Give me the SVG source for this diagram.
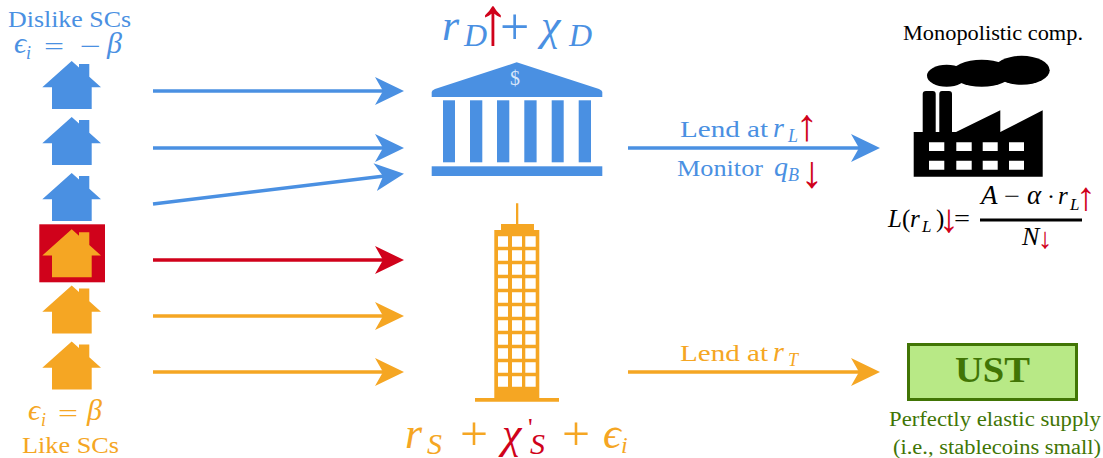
<svg xmlns="http://www.w3.org/2000/svg" width="1103" height="458" viewBox="0 0 1103 458">
<style>
text{font-family:"Liberation Serif","Times New Roman",serif}
.i{font-style:italic}
.b{fill:#4a90e2}.o{fill:#f5a623}.r{fill:#d0021b}.g{fill:#417505}.k{fill:#000}
.la{fill:none;stroke-width:3.4}
.ra{fill:#d0021b;text-anchor:middle}
</style>
<defs>
<path id="house" d="M71.7 61L79 67.5V64H89.3V76.8L101 87.3H91.7V109H52V87.3H42.3Z"/>
<marker id="hb" markerUnits="userSpaceOnUse" markerWidth="30" markerHeight="30" refX="22" refY="15" orient="auto"><path d="M0 1L29 15L0 29L8 15Z" fill="#4a90e2"/></marker>
<marker id="hr" markerUnits="userSpaceOnUse" markerWidth="30" markerHeight="30" refX="22" refY="15" orient="auto"><path d="M0 1L29 15L0 29L8 15Z" fill="#d0021b"/></marker>
<marker id="ho" markerUnits="userSpaceOnUse" markerWidth="30" markerHeight="30" refX="22" refY="15" orient="auto"><path d="M0 1L29 15L0 29L8 15Z" fill="#f5a623"/></marker>
</defs>
<g id="connectors">
<path class="la" stroke="#4a90e2" marker-end="url(#hb)" d="M153 91H397"/>
<path class="la" stroke="#4a90e2" marker-end="url(#hb)" d="M153 148H397"/>
<path class="la" stroke="#4a90e2" marker-end="url(#hb)" d="M153 204L397 174.5"/>
<path class="la" stroke="#d0021b" marker-end="url(#hr)" d="M153 260H397"/>
<path class="la" stroke="#f5a623" marker-end="url(#ho)" d="M153 316H397"/>
<path class="la" stroke="#f5a623" marker-end="url(#ho)" d="M153 372H397"/>
<path class="la" stroke="#4a90e2" marker-end="url(#hb)" d="M628 148H873"/>
<path class="la" stroke="#f5a623" marker-end="url(#ho)" d="M628 372H873"/>
</g>
<g id="house1"><use href="#house" class="b"/></g>
<g id="house2"><use href="#house" class="b" y="56"/></g>
<g id="house3"><use href="#house" class="b" y="112"/></g>
<g id="house4"><rect x="39.3" y="224.3" width="65.7" height="58" class="r"/><use href="#house" class="o" y="168.3"/></g>
<g id="house5"><use href="#house" class="o" y="224.5"/></g>
<g id="house6"><use href="#house" class="o" y="280.5"/></g>
<g id="dislike-label" class="b" font-size="24">
<text x="8" y="27" textLength="123" lengthAdjust="spacingAndGlyphs">Dislike SCs</text>
<text x="14" y="53" class="i" font-size="30">ϵ</text><text x="26" y="59" class="i" font-size="18">i</text>
<text x="44" y="55" font-size="26" textLength="20" lengthAdjust="spacingAndGlyphs">=</text><text x="80" y="55" font-size="26" textLength="21" lengthAdjust="spacingAndGlyphs">−</text><text x="107" y="53" class="i" font-size="30">β</text>
</g>
<g id="like-label" class="o" font-size="24">
<text x="28" y="420" class="i" font-size="30">ϵ</text><text x="41" y="426" class="i" font-size="18">i</text>
<text x="58" y="422" font-size="26" textLength="20" lengthAdjust="spacingAndGlyphs">=</text><text x="87" y="420" class="i" font-size="30">β</text>
<text x="22" y="453" textLength="97" lengthAdjust="spacingAndGlyphs">Like SCs</text>
</g>
<g id="bank" class="b">
<path d="M516.7 62.3L599 89Q602.3 90.5 602.3 92V97H431.7V92Q431.7 90.5 435 89Z"/>
<rect x="443" y="100.3" width="12" height="62"/><rect x="470" y="100.3" width="12.3" height="62"/><rect x="497" y="100.3" width="12.3" height="62"/><rect x="524.3" y="100.3" width="12.3" height="62"/><rect x="551.7" y="100.3" width="12" height="62"/><rect x="578.7" y="100.3" width="12.3" height="62"/>
<rect x="431.7" y="166.3" width="170.6" height="9.7"/>
<text x="515" y="85" font-size="20" text-anchor="middle" style="fill:#d6e6fa">$</text>
</g>
<g id="bank-label" class="b">
<text x="442" y="40" class="i" font-size="44">r</text>
<text x="464" y="46" class="i" font-size="32">D</text>
<text x="500" y="44" font-size="52">+</text>
<text class="ra" x="493" y="44" font-size="67">↑</text>
<text x="541" y="40" class="i" font-size="44">χ</text>
<text x="569" y="46" class="i" font-size="32">D</text>
</g>
<g id="tower" class="o">
<path d="M516 203.3H518.3V224H534V230H539.3V398H559V401.7H475V398H494.3V230H501V224H516Z"/>
<path style="fill:#fff" d="M498 236.3h10v10.5h-10zM512 236.3h10v10.5h-10zM525.3 236.3h10.4v10.5h-10.4zM498 250.3h10v10.5h-10zM512 250.3h10v10.5h-10zM525.3 250.3h10.4v10.5h-10.4zM498 264.3h10v10.5h-10zM512 264.3h10v10.5h-10zM525.3 264.3h10.4v10.5h-10.4zM498 278.3h10v10.5h-10zM512 278.3h10v10.5h-10zM525.3 278.3h10.4v10.5h-10.4zM498 292.3h10v10.5h-10zM512 292.3h10v10.5h-10zM525.3 292.3h10.4v10.5h-10.4zM498 306.3h10v10.5h-10zM512 306.3h10v10.5h-10zM525.3 306.3h10.4v10.5h-10.4zM498 320.3h10v10.5h-10zM512 320.3h10v10.5h-10zM525.3 320.3h10.4v10.5h-10.4zM498 334.3h10v10.5h-10zM512 334.3h10v10.5h-10zM525.3 334.3h10.4v10.5h-10.4zM498 348.3h10v10.5h-10zM512 348.3h10v10.5h-10zM525.3 348.3h10.4v10.5h-10.4zM498 362.3h10v10.5h-10zM512 362.3h10v10.5h-10zM525.3 362.3h10.4v10.5h-10.4zM498 376.3h10v10.5h-10zM512 376.3h10v10.5h-10zM525.3 376.3h10.4v10.5h-10.4z"/>
</g>
<g id="tower-label" class="o">
<text x="405" y="448" class="i" font-size="44">r</text>
<text x="427" y="454" class="i" font-size="30">S</text>
<text x="460" y="450" font-size="48" textLength="28" lengthAdjust="spacingAndGlyphs">+</text>
<text x="502" y="448" class="i" font-size="44" style="fill:#d0021b">χ</text>
<text x="528" y="436" font-size="26" style="fill:#d0021b">'</text>
<text x="530" y="454" class="i" font-size="30" style="fill:#d0021b">S</text>
<text x="562" y="450" font-size="48" textLength="28" lengthAdjust="spacingAndGlyphs">+</text>
<text x="603" y="448" class="i" font-size="44">ϵ</text>
<text x="621" y="453" class="i" font-size="24">i</text>
</g>
<g id="lend-rl" class="b" font-size="24">
<text x="680" y="137" textLength="88" lengthAdjust="spacingAndGlyphs">Lend at</text>
<text x="773" y="137" class="i" font-size="28">r</text><text x="788" y="142" class="i" font-size="18">L</text>
<text class="ra" x="807" y="140" font-size="45">↑</text>
</g>
<g id="monitor" class="b" font-size="24">
<text x="677" y="176" textLength="86" lengthAdjust="spacingAndGlyphs">Monitor</text>
<text x="774" y="176" class="i" font-size="28">q</text><text x="788" y="181" class="i" font-size="18">B</text>
<text class="ra" x="812" y="187" font-size="45">↓</text>
</g>
<g id="lend-rt" class="o" font-size="24">
<text x="680" y="361" textLength="88" lengthAdjust="spacingAndGlyphs">Lend at</text>
<text x="773" y="361" class="i" font-size="28">r</text><text x="788" y="366" class="i" font-size="18">T</text>
</g>
<g id="factory" class="k">
<text x="903" y="40" font-size="20" textLength="180" lengthAdjust="spacingAndGlyphs">Monopolistic comp.</text>
<ellipse cx="946.7" cy="75.7" rx="19.7" ry="11"/><ellipse cx="981.7" cy="73.3" rx="30" ry="13.5"/><ellipse cx="1021.7" cy="70.3" rx="28" ry="14.5"/>
<path fill-rule="evenodd" d="M913.7 176.7V132H922.7V94Q922.7 91 926 91H932.7Q935.7 91 935.7 94V132H939.3V94Q939.3 91 942 91H949Q952 91 952 94V132H956L1000.3 110.3V132L1042.7 110.3V176.7ZM929 142.3V151H944.3V142.3ZM956.3 142.3V151H971.7V142.3ZM982.7 142.3V151H997.7V142.3ZM1009 142.3V151H1024V142.3ZM929 160.7V169.7H944.3V160.7ZM956.3 160.7V169.7H971.7V160.7ZM982.7 160.7V169.7H997.7V160.7ZM1009 160.7V169.7H1024V160.7Z"/>
</g>
<g id="formula" class="k">
<text x="888" y="227" class="i" font-size="25">L</text>
<text x="902" y="227" font-size="25">(</text>
<text x="910" y="227" class="i" font-size="25">r</text>
<text x="922" y="232" class="i" font-size="17">L</text>
<text x="936" y="227" font-size="25">)</text>
<text class="ra" x="949" y="232" font-size="40">↓</text>
<text x="954" y="227" font-size="25" textLength="16" lengthAdjust="spacingAndGlyphs">=</text>
<text x="981" y="204" class="i" font-size="27">A</text>
<text x="1004" y="204" font-size="24" textLength="16" lengthAdjust="spacingAndGlyphs">−</text>
<text x="1027" y="204" class="i" font-size="27">α</text>
<text x="1047" y="204" font-size="24">·</text>
<text x="1058" y="204" class="i" font-size="25">r</text>
<text x="1070" y="210" class="i" font-size="17">L</text>
<text class="ra" x="1086" y="210" font-size="40">↑</text>
<rect x="980" y="218.5" width="102" height="3"/>
<text x="1022" y="245" class="i" font-size="26">N</text>
<text class="ra" x="1045" y="248" font-size="29">↓</text>
</g>
<g id="ust">
<rect x="908.5" y="344.5" width="168" height="55" fill="#b8e986" stroke="#417505" stroke-width="3"/>
<text x="955" y="382" class="g" font-size="35" font-weight="bold" textLength="75" lengthAdjust="spacingAndGlyphs">UST</text>
<text x="889" y="426" class="g" font-size="20" textLength="212" lengthAdjust="spacingAndGlyphs">Perfectly elastic supply</text>
<text x="893" y="454" class="g" font-size="20" textLength="208" lengthAdjust="spacingAndGlyphs">(i.e., stablecoins small)</text>
</g>
</svg>
